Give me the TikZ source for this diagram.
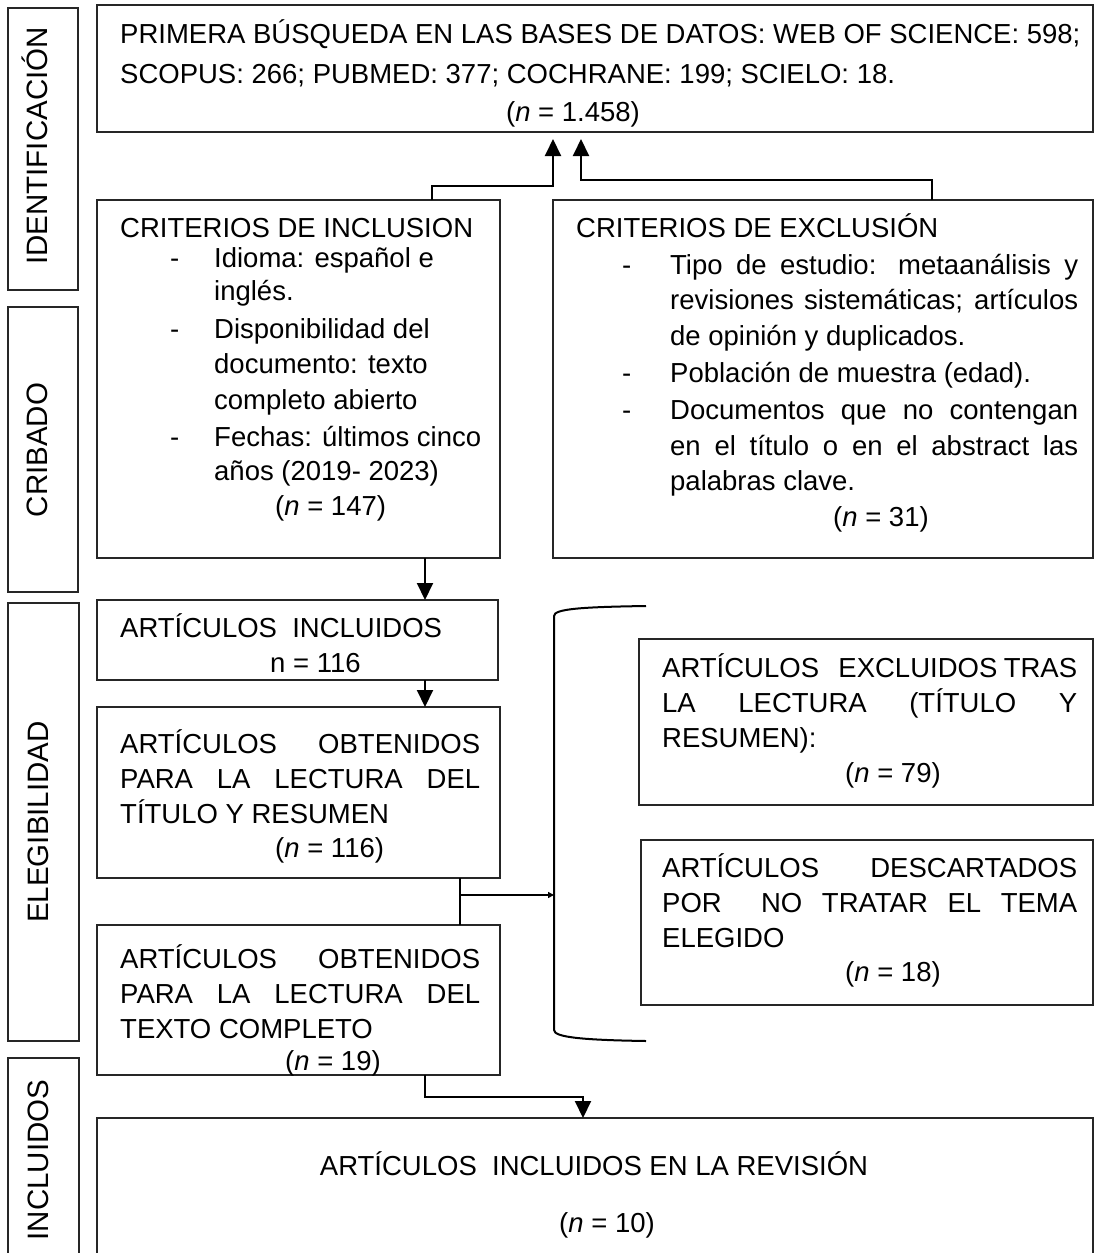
\documentclass[tikz,border=0pt]{standalone}
\usepackage{fontspec}
\setmainfont{Liberation Sans}
\usetikzlibrary{arrows.meta}
\newcommand\mfs{\fontsize{27.5}{33}\selectfont}
\newcommand\lfs{\fontsize{29.5}{35}\selectfont}
\tikzset{
  box/.style={draw=black!85, line width=1.2pt, inner sep=0pt, outer sep=0pt, anchor=north west},
  tl/.style={anchor=base west, inner sep=0pt, font=\mfs},
  tc/.style={anchor=base, inner sep=0pt, font=\mfs},
  lab/.style={anchor=base, inner sep=0pt, rotate=90, font=\lfs},
  conn/.style={line width=2pt},
  arr/.style={conn, -{Triangle[width=16pt,length=17pt]}},
  sarr/.style={line width=1.8pt, -{Triangle[width=6pt,length=6pt]}}
}
\begin{document}
\begin{tikzpicture}[x=1pt,y=-1pt]
\clip (0,0) rectangle (1095,1253);
% phase boxes
\node[box, minimum width=70pt, minimum height=282pt] (ph1) at (8,8) {};
\node[box, minimum width=70pt, minimum height=285pt] (ph2) at (8,307) {};
\node[box, minimum width=71pt, minimum height=438pt] (ph3) at (8,603) {};
\node[box, minimum width=71pt, minimum height=260pt] (ph4) at (8,1058) {};
\node[lab] (l1) at (47,146) {IDENTIFICACIÓN};
\node[lab] (l2) at (47,450) {CRIBADO};
\node[lab] (l3) at (48,822) {ELEGIBILIDAD};
\node[lab] (l4) at (48,1160) {INCLUIDOS};
% main boxes
\node[box, minimum width=996pt, minimum height=127pt] (top) at (97,5) {};
\node[box, minimum width=403pt, minimum height=358pt] (incl) at (97,200) {};
\node[box, minimum width=540pt, minimum height=358pt] (excl) at (553,200) {};
\node[box, minimum width=401pt, minimum height=80pt] (ai) at (97,600) {};
\node[box, minimum width=403pt, minimum height=171pt] (ob1) at (97,707) {};
\node[box, minimum width=403pt, minimum height=150pt] (ob2) at (97,925) {};
\node[box, minimum width=454pt, minimum height=166pt] (ex1) at (639,639) {};
\node[box, minimum width=452pt, minimum height=165pt] (ex2) at (641,840) {};
\node[box, minimum width=996pt, minimum height=200pt] (fin) at (97,1118) {};
% top box text
\node[tl] (a1) at (120,43) {PRIMERA BÚSQUEDA EN LAS BASES DE DATOS: WEB OF SCIENCE: 598;};
\node[tl] (a2) at (120,83) {SCOPUS: 266; PUBMED: 377; COCHRANE: 199; SCIELO: 18.};
\node[tc] (a3) at (573,121) {(\textit{n} = 1.458)};
% inclusion
\node[tl] (b0) at (120,237) {CRITERIOS DE INCLUSION};
\node[tl] (b1d) at (170,267) {-};
\node[tl] (b1) at (214,267) {Idioma: español e};
\node[tl] (b2) at (214,300) {inglés.};
\node[tl] (b3d) at (170,338) {-};
\node[tl] (b3) at (214,338) {Disponibilidad del};
\node[tl] (b4) at (214,373) {documento: texto};
\node[tl] (b5) at (214,409) {completo abierto};
\node[tl] (b6d) at (170,446) {-};
\node[tl] (b6) at (214,446) {Fechas: últimos cinco};
\node[tl] (b7) at (214,480) {años (2019- 2023)};
\node[tl] (b8) at (275,515) {(\textit{n} = 147)};
% exclusion
\node[tl] (c0) at (576,237) {CRITERIOS DE EXCLUSIÓN};
\node[tl] (c1d) at (622,274) {-};
\node[tl] (c1) at (670,274) {\makebox[408pt][s]{Tipo de estudio: metaanálisis y}};
\node[tl] (c2) at (670,309) {\makebox[408pt][s]{revisiones sistemáticas; artículos}};
\node[tl] (c3) at (670,345) {de opinión y duplicados.};
\node[tl] (c4d) at (622,382) {-};
\node[tl] (c4) at (670,382) {Población de muestra (edad).};
\node[tl] (c5d) at (622,419) {-};
\node[tl] (c5) at (670,419) {\makebox[408pt][s]{Documentos que no contengan}};
\node[tl] (c6) at (670,455) {\makebox[408pt][s]{en el título o en el abstract las}};
\node[tl] (c7) at (670,490) {palabras clave.};
\node[tl] (c8) at (833,526) {(\textit{n} = 31)};
% articulos incluidos
\node[tl] (d1) at (120,637) {ARTÍCULOS\ \ INCLUIDOS};
\node[tl] (d2) at (270,672) {n = 116};
% obtenidos 1
\node[tl] (e1) at (120,753) {\makebox[360pt][s]{ARTÍCULOS OBTENIDOS}};
\node[tl] (e2) at (120,788) {\makebox[360pt][s]{PARA LA LECTURA DEL}};
\node[tl] (e3) at (120,823) {TÍTULO Y RESUMEN};
\node[tl] (e4) at (275,857) {(\textit{n} = 116)};
% obtenidos 2
\node[tl] (f1) at (120,968) {\makebox[360pt][s]{ARTÍCULOS OBTENIDOS}};
\node[tl] (f2) at (120,1003) {\makebox[360pt][s]{PARA LA LECTURA DEL}};
\node[tl] (f3) at (120,1038) {TEXTO COMPLETO};
\node[tl] (f4) at (285,1070) {(\textit{n} = 19)};
% excluidos
\node[tl] (g1) at (662,677) {\makebox[415pt][s]{ARTÍCULOS \ \ EXCLUIDOS TRAS}};
\node[tl] (g2) at (662,712) {\makebox[415pt][s]{LA LECTURA (TÍTULO Y}};
\node[tl] (g3) at (662,747) {RESUMEN):};
\node[tl] (g4) at (845,782) {(\textit{n} = 79)};
% descartados
\node[tl] (h1) at (662,877) {\makebox[415pt][s]{ARTÍCULOS DESCARTADOS}};
\node[tl] (h2) at (662,912) {\makebox[415pt][s]{POR \ NO TRATAR EL TEMA}};
\node[tl] (h3) at (662,947) {ELEGIDO};
\node[tl] (h4) at (845,981) {(\textit{n} = 18)};
% final
\node[tc] (k1) at (594,1175) {ARTÍCULOS\ \ INCLUIDOS EN LA REVISIÓN};
\node[tc] (k2) at (607,1232) {(\textit{n} = 10)};
% connectors
\coordinate (jL) at (432,186);
\coordinate (tipL) at (553,139);
\coordinate (jR) at (932,180);
\coordinate (tipR) at (581,139);
\draw[arr] (jL |- incl.north) -- (jL) -| (tipL);
\draw[arr] (jR |- excl.north) -- (jR) -| (tipR);
\coordinate (xA) at (425,0);
\draw[arr] (xA |- incl.south) -- (xA |- ai.north);
\draw[arr] (xA |- ai.south) -- (xA |- ob1.north);
\coordinate (xB) at (460,0);
\coordinate (jB) at (460,895);
\coordinate (bk) at (554,895);
\draw[conn] (xB |- ob1.south) -- (xB |- ob2.north);
\draw[sarr] (jB) -- (bk);
\coordinate (jF) at (425,1097);
\coordinate (tipF) at (583,0);
\draw[arr] (xA |- ob2.south) -- (jF) -| (tipF |- fin.north);
% bracket
\draw[line width=2pt] (646,606) .. controls (580,607) and (554,609) .. (554,616)
  -- (554,1030) .. controls (554,1037) and (580,1040) .. (646,1041);
\end{tikzpicture}
\end{document}
